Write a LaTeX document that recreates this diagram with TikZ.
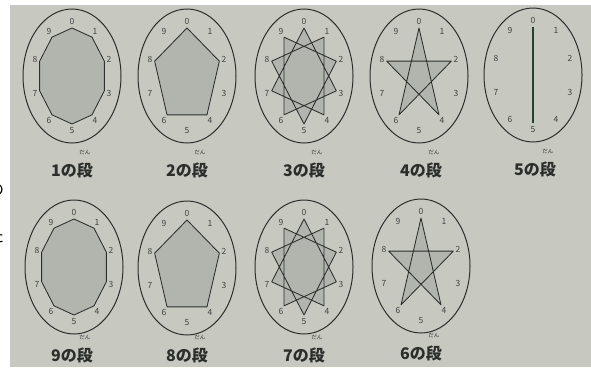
\documentclass[tikz,border=0pt]{standalone}
\usepackage{fontspec}
\newfontfamily\jpfont{Noto Sans CJK JP}
\definecolor{paper}{RGB}{199,201,193}
\definecolor{shade}{RGB}{178,180,174}
\definecolor{ink}{RGB}{44,46,44}
\definecolor{bar}{RGB}{38,64,42}
\tikzset{
  rim/.style={ink, line width=1pt},
  poly/.style={ink, line width=0.85pt, fill=shade, line join=round},
  num/.style={font=\jpfont\fontsize{8.5}{8.5}\selectfont, text=ink!90, inner sep=0pt},
  title/.style={font=\jpfont\bfseries\fontsize{16}{16}\selectfont, text=ink, inner sep=0pt},
}

\begin{document}
\begin{tikzpicture}[x=1pt, y=-1pt]
    % ==== DEFINITIONS ====
    \def\rx{49} % outer ellipse, x radius
    \def\ry{67} % outer ellipse, y radius
    \def\dan{\makebox[0pt][l]{\raisebox{1.35em}[0pt][0pt]{\makebox[1em]{\mdseries\fontsize{5.5}{5.5}\selectfont だん}}}段}
    % clock face: #1 name, #2 x, #3 y
    \def\clockface#1#2#3{%
        \draw[rim] (#2,#3) ellipse [x radius=\rx, y radius=\ry];
        \foreach \i in {0,...,9}{
            \coordinate (#1-\i) at ([shift={(#2,#3)}] {-90+36*\i}:34 and 48);
            \node[num] (#1-n\i) at ([shift={(#2,#3)}] {-90+36*\i}:39 and 55) {\i};
        }
    }

    \useasboundingbox (0,0) rectangle (591,367);

    % ==== PAPER ====
    \fill[white] (0,0) rectangle (591,367);
    \begin{scope}
        \clip (0,0) rectangle (10,367);
        \node[font=\jpfont\fontsize{16}{16}\selectfont, inner sep=0pt] (cut1) at (-4,190) {の};
        \node[font=\jpfont\fontsize{16}{16}\selectfont, inner sep=0pt] (cut2) at (-4,236) {た};
    \end{scope}
    \fill[paper] (10,5) rectangle (591,367);

    % ==== TOP ROW ====
    \clockface{d1}{72}{76}
    \clockface{d2}{187}{76}
    \clockface{d3}{304}{76}
    \clockface{d4}{419}{76}
    \clockface{d5}{533}{75}

    % ==== BOTTOM ROW ====
    \clockface{d9}{74}{267}
    \clockface{d8}{187}{268}
    \clockface{d7}{304}{267}
    \clockface{d6}{421}{266}

    % ==== 1 and 9 ====
    \filldraw[poly] (d1-0) -- (d1-1) -- (d1-2) -- (d1-3) -- (d1-4) -- (d1-5) -- (d1-6) -- (d1-7) -- (d1-8) -- (d1-9) -- cycle;
    \filldraw[poly] (d9-0) -- (d9-9) -- (d9-8) -- (d9-7) -- (d9-6) -- (d9-5) -- (d9-4) -- (d9-3) -- (d9-2) -- (d9-1) -- cycle;

    % ==== 2 and 8 ====
    \filldraw[poly] (d2-0) -- (d2-2) -- (d2-4) -- (d2-6) -- (d2-8) -- cycle;
    \filldraw[poly] (d8-0) -- (d8-8) -- (d8-6) -- (d8-4) -- (d8-2) -- cycle;

    % ==== 3 and 7 ====
    \filldraw[poly] (d3-0) -- (d3-3) -- (d3-6) -- (d3-9) -- (d3-2) -- (d3-5) -- (d3-8) -- (d3-1) -- (d3-4) -- (d3-7) -- cycle;
    \filldraw[poly] (d7-0) -- (d7-7) -- (d7-4) -- (d7-1) -- (d7-8) -- (d7-5) -- (d7-2) -- (d7-9) -- (d7-6) -- (d7-3) -- cycle;

    % ==== 4 and 6 ====
    \filldraw[poly] (d4-0) -- (d4-4) -- (d4-8) -- (d4-2) -- (d4-6) -- cycle;
    \filldraw[poly] (d6-0) -- (d6-6) -- (d6-2) -- (d6-8) -- (d6-4) -- cycle;

    % ==== 5 ====
    \draw[bar, line width=2pt] (d5-0) -- (d5-5);

    % ==== TITLES ====
    \node[title] (t1) at (72,170) {1の\dan};
    \node[title] (t2) at (187,170) {2の\dan};
    \node[title] (t3) at (304,170) {3の\dan};
    \node[title] (t4) at (421,170) {4の\dan};
    \node[title] (t5) at (535,169) {5の\dan};
    \node[title] (t9) at (72,355) {9の\dan};
    \node[title] (t8) at (187,355) {8の\dan};
    \node[title] (t7) at (304,355) {7の\dan};
    \node[title] (t6) at (421,353) {6の\dan};
\end{tikzpicture}
\end{document}
